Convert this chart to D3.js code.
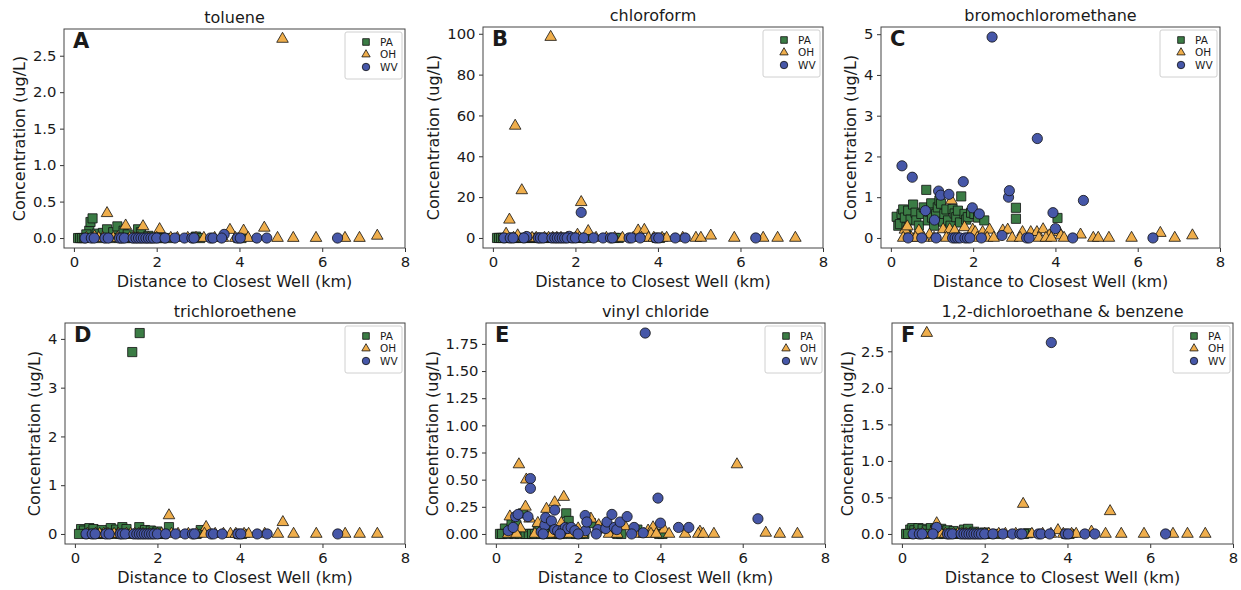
<!DOCTYPE html>
<html>
<head>
<meta charset="utf-8">
<script src="https://cdn.jsdelivr.net/npm/d3@7"></script>
<style>
  body { margin: 0; background: #fff; }
  text { font-family: "DejaVu Sans", sans-serif; fill: #1a1a1a; }
</style>
</head>
<body>
<div id="chart"></div>
<script>
// sampled sites, km to closest well. non-detects are drawn at 0
var paSites = [0.1, 0.15, 0.2, 0.25, 0.3, 0.35, 0.4, 0.45, 0.52, 0.58, 0.65, 0.72, 0.8, 0.88, 0.95, 1.02, 1.1, 1.18,
  1.25, 1.32, 1.4, 1.48, 1.55, 1.62, 1.7, 1.78, 1.85, 1.95, 2.05, 2.15, 2.28, 2.95, 3.05, 3.97, 4.05];
var ohSites = [0.3, 0.5, 0.6, 0.7, 0.8, 0.95, 1.05, 1.25, 1.35, 1.45, 1.55, 1.65, 1.8, 2.0, 2.1, 2.34, 2.5, 2.75, 2.95,
  3.14, 3.4, 3.6, 3.77, 3.9, 4.1, 4.21, 4.6, 4.92, 5.04, 5.3, 5.85, 6.55, 6.9, 7.33];
var wvSites = [0.27, 0.42, 0.49, 0.75, 0.83, 1.1, 1.15, 1.22, 1.43, 1.5, 1.56, 1.62, 1.68, 1.74, 1.8, 1.86, 1.92, 2.0,
  2.2, 2.44, 2.67, 2.85, 2.9, 3.3, 3.36, 3.57, 3.95, 4.02, 4.42, 4.66, 6.37];

var states = ["PA", "OH", "WV"];
var xTicks = [0, 2, 4, 6, 8];

// detections: [distance (km), concentration (ug/L)]
var toluenePA = [[0.37, 0.1], [0.4, 0.22], [0.45, 0.27], [0.3, 0.05], [0.55, 0.06], [0.7, 0.07], [0.8, 0.12],
  [0.95, 0.08], [1.05, 0.16], [1.2, 0.1], [1.3, 0.05], [1.55, 0.12], [1.62, 0.08], [1.8, 0.03], [2.95, 0.02]];
var tolueneOH = [[0.5, 0.02], [0.8, 0.34], [1.25, 0.17], [1.67, 0.16], [2.07, 0.12], [3.77, 0.11], [4.1, 0.1],
  [4.6, 0.14], [5.04, 2.73], [7.33, 0.03]];
var tolueneWV = [[3.63, 0.05]];
var tolueneTicks = [0, 0.5, 1, 1.5, 2, 2.5];

var chloroformPA = [];
var chloroformOH = [[0.32, 2], [0.4, 8.9], [0.54, 54.9], [0.6, 1.2], [0.7, 23.3], [1.4, 98.4], [2.05, 1.5],
  [2.14, 17.5], [2.31, 3.3], [3.52, 3.6], [3.67, 3.9], [5.28, 1.1]];
var chloroformWV = [[0.82, 0.7], [1.85, 0.8], [2.14, 12.5]];
var chloroformTicks = [0, 20, 40, 60, 80, 100];

var bromoPA = [[0.14, 0.52], [0.18, 0.3], [0.22, 0.34], [0.26, 0.59], [0.3, 0.7], [0.34, 0.5], [0.38, 0.26],
  [0.42, 0.67], [0.48, 0.45], [0.54, 0.82], [0.6, 0.62], [0.62, 0.43], [0.68, 0.3], [0.74, 0.59], [0.8, 0.75],
  [0.86, 1.18], [0.9, 0.43], [0.95, 0.65], [0.98, 0.85], [1.0, 0.5], [1.05, 0.3], [1.1, 0.59], [1.14, 0.75],
  [1.18, 0.92], [1.22, 0.84], [1.27, 0.4], [1.3, 0.59], [1.35, 0.7], [1.39, 0.43], [1.45, 0.3], [1.5, 0.71],
  [1.55, 0.6], [1.59, 0.51], [1.63, 0.67], [1.68, 0.38], [1.71, 1.02], [1.79, 0.59], [1.83, 0.45], [1.87, 0.51],
  [1.95, 0.62], [2.03, 0.59], [2.12, 0.5], [2.27, 0.43], [3.04, 0.74], [3.04, 0.47], [4.05, 0.49]];
var bromoOH = [[0.34, 0.2], [0.4, 0.28], [0.68, 0.18], [0.94, 0.08], [1.27, 0.21], [1.43, 0.21], [1.47, 0.92],
  [1.55, 0.18], [1.79, 0.26], [1.99, 0.2], [2.05, 0.14], [2.23, 0.14], [2.4, 0.2], [2.72, 0.18], [2.84, 0.2],
  [3.2, 0.14], [3.4, 0.14], [3.55, 0.14], [3.7, 0.21], [3.85, 0.06], [4.09, 0.14], [4.13, 0.06], [4.61, 0.08],
  [6.55, 0.12], [7.33, 0.06]];
var bromoWV = [[0.27, 1.77], [0.52, 1.49], [0.84, 0.67], [1.06, 0.44], [1.16, 1.15], [1.21, 1.05], [1.41, 1.07],
  [1.76, 1.38], [1.98, 0.74], [2.15, 0.59], [2.46, 4.93], [2.7, 0.06], [2.86, 1.0], [2.88, 1.16], [3.56, 2.44],
  [3.94, 0.62], [4.0, 0.23], [4.68, 0.92]];
var bromoTicks = [0, 1, 2, 3, 4, 5];

var tceePA = [[0.15, 0.1], [0.22, 0.07], [0.35, 0.12], [0.45, 0.1], [0.65, 0.08], [0.87, 0.12], [1.0, 0.09],
  [1.15, 0.14], [1.25, 0.1], [1.39, 3.73], [1.56, 0.14], [1.57, 4.12], [1.7, 0.08], [1.84, 0.07], [2.0, 0.05],
  [2.28, 0.14], [3.05, 0.08]];
var tceeOH = [[2.28, 0.38], [3.18, 0.14], [5.04, 0.24]];
var tceeWV = [];
var tceeTicks = [0, 1, 2, 3, 4];

var vinylPA = [[0.22, 0.05], [0.38, 0.1], [0.5, 0.08], [0.66, 0.19], [1.02, 0.05], [1.3, 0.06], [1.71, 0.19],
  [1.77, 0.12], [2.31, 0.1], [3.44, 0.04]];
var vinylOH = [[0.34, 0.16], [0.56, 0.64], [0.6, 0.05], [0.72, 0.25], [0.74, 0.5], [0.82, 0.14], [1.02, 0.1],
  [1.23, 0.23], [1.43, 0.29], [1.59, 0.1], [1.65, 0.34], [2.0, 0.05], [2.31, 0.14], [2.5, 0.08], [2.6, 0.04],
  [3.14, 0.07], [3.7, 0.03], [3.82, 0.06], [4.09, 0.04], [4.96, 0.02], [5.86, 0.64], [6.56, 0.01]];
var vinylWV = [[0.3, 0.03], [0.42, 0.06], [0.48, 0.16], [0.54, 0.18], [0.78, 0.16], [0.84, 0.51], [0.84, 0.42],
  [1.1, 0.02], [1.19, 0.08], [1.21, 0.15], [1.35, 0.12], [1.43, 0.22], [1.43, 0.04], [1.5, 0.03], [1.63, 0.04],
  [1.69, 0.06], [1.75, 0.05], [1.83, 0.06], [1.92, 0.03], [2.17, 0.17], [2.18, 0.03], [2.21, 0.11], [2.48, 0.04],
  [2.67, 0.05], [2.7, 0.11], [2.82, 0.18], [2.88, 0.06], [2.94, 0.04], [3.02, 0.11], [3.19, 0.16], [3.36, 0.06],
  [3.58, 0.01], [3.63, 1.85], [3.94, 0.33], [4.0, 0.1], [4.44, 0.06], [4.69, 0.06], [6.37, 0.14]];
var vinylTicks = [0, 0.25, 0.5, 0.75, 1, 1.25, 1.5, 1.75];

var dcaPA = [[0.2, 0.06], [0.25, 0.08], [0.3, 0.05], [0.4, 0.08], [0.5, 0.07], [0.6, 0.05], [0.7, 0.08],
  [0.8, 0.06], [0.95, 0.07], [1.1, 0.05], [1.25, 0.04], [1.5, 0.06], [1.6, 0.07], [1.75, 0.03], [2.0, 0.02],
  [3.05, 0.01]];
var dcaOH = [[0.6, 2.75], [0.84, 0.145], [2.93, 0.41], [3.77, 0.05], [4.58, 0.03], [5.03, 0.31]];
var dcaWV = [[0.84, 0.09], [3.61, 2.62]];
var dcaTicks = [0, 0.5, 1, 1.5, 2, 2.5];

var panels = [
  { title: "toluene", letter: "A", data: [toluenePA, tolueneOH, tolueneWV], ticks: tolueneTicks, fmt: ".1f", paZeros: true },
  { title: "chloroform", letter: "B", data: [chloroformPA, chloroformOH, chloroformWV], ticks: chloroformTicks, fmt: "d", paZeros: true },
  { title: "bromochloromethane", letter: "C", data: [bromoPA, bromoOH, bromoWV], ticks: bromoTicks, fmt: "d", paZeros: false },
  { title: "trichloroethene", letter: "D", data: [tceePA, tceeOH, tceeWV], ticks: tceeTicks, fmt: "d", paZeros: true },
  { title: "vinyl chloride", letter: "E", data: [vinylPA, vinylOH, vinylWV], ticks: vinylTicks, fmt: ".2f", paZeros: true },
  { title: "1,2-dichloroethane & benzene", letter: "F", data: [dcaPA, dcaOH, dcaWV], ticks: dcaTicks, fmt: ".1f", paZeros: true }
];

// axes frames in page pixels
var frames = [
  { left: 64, top: 29, right: 405, bottom: 248 },
  { left: 483, top: 27, right: 823, bottom: 248 },
  { left: 881, top: 27, right: 1220, bottom: 248 },
  { left: 65, top: 323, right: 405, bottom: 544 },
  { left: 486, top: 323, right: 825, bottom: 544 },
  { left: 892, top: 323, right: 1233, bottom: 544 }
];

var colors = { PA: "#3b7c45", OH: "#efae4c", WV: "#4657a8" };
var shapes = { PA: d3.symbolSquare, OH: d3.symbolTriangle, WV: d3.symbolCircle };
var sizes = { PA: 84, OH: 58, WV: 82 };
var legendSizes = { PA: 44, OH: 30, WV: 44 };
var allSites = [paSites, ohSites, wvSites];

var svg = d3.select("#chart").append("svg")
    .attr("width", 1241)
    .attr("height", 590)
    .style("background", "#fff");

panels.forEach(function (p, i) {
  var f = frames[i];
  var w = f.right - f.left;
  var h = f.bottom - f.top;
  var g = svg.append("g").attr("transform", "translate(" + f.left + "," + f.top + ")");

  // points per state: detections plus zeros at sites without a detection
  var series = states.map(function (s, k) {
    var det = p.data[k];
    var pts = det.slice();
    if (s !== "PA" || p.paZeros) {
      allSites[k].forEach(function (d) {
        var hit = det.some(function (q) { return Math.abs(q[0] - d) < 0.04; });
        if (!hit) pts.push([d, 0]);
      });
    }
    return { state: s, points: pts };
  });

  var ymax = d3.max(p.data, function (det) { return d3.max(det, function (q) { return q[1]; }) || 0; });

  var x = d3.scaleLinear().domain([-0.24, 8]).range([0, w]);
  var y = d3.scaleLinear().domain([-0.05 * ymax, 1.05 * ymax]).range([h, 0]);

  var gx = g.append("g")
      .attr("transform", "translate(0," + h + ")")
      .call(d3.axisBottom(x).tickValues(xTicks).tickSize(4).tickPadding(4.5));
  var gy = g.append("g")
      .call(d3.axisLeft(y).tickValues(p.ticks).tickFormat(d3.format(p.fmt)).tickSize(4).tickPadding(3.5));
  [gx, gy].forEach(function (a) {
    a.attr("font-size", 14.8).attr("font-family", null);
    a.select(".domain").remove();
    a.selectAll(".tick line").attr("stroke", "#333");
  });

  series.forEach(function (s) {
    g.append("g").selectAll("path")
      .data(s.points)
      .enter().append("path")
        .attr("transform", function (d) { return "translate(" + x(d[0]) + "," + y(d[1]) + ")"; })
        .attr("d", d3.symbol().type(shapes[s.state]).size(sizes[s.state]))
        .attr("fill", colors[s.state])
        .attr("stroke", "#111")
        .attr("stroke-width", 0.8);
  });

  g.append("rect")
      .attr("width", w)
      .attr("height", h)
      .attr("fill", "none")
      .attr("stroke", "#444")
      .attr("stroke-width", 1);

  g.append("text")
      .attr("x", w / 2)
      .attr("y", -6)
      .attr("text-anchor", "middle")
      .attr("font-size", 16)
      .text(p.title);

  g.append("text")
      .attr("x", 9)
      .attr("y", 19)
      .attr("font-size", 21)
      .attr("font-weight", "bold")
      .text(p.letter);

  g.append("text")
      .attr("x", w / 2)
      .attr("y", h + 39)
      .attr("text-anchor", "middle")
      .attr("font-size", 16)
      .text("Distance to Closest Well (km)");

  var bb = gy.node().getBBox();
  g.append("text")
      .attr("transform", "translate(" + (bb.x - 8) + "," + (h / 2) + ") rotate(-90)")
      .attr("text-anchor", "middle")
      .attr("font-size", 16)
      .text("Concentration (ug/L)");

  // legend
  var lg = g.append("g").attr("transform", "translate(" + (w - 60) + ",3)");
  lg.append("rect")
      .attr("width", 57)
      .attr("height", 47)
      .attr("rx", 2)
      .attr("fill", "#fff")
      .attr("fill-opacity", 0.85)
      .attr("stroke", "#d0d0d0");
  var items = lg.selectAll(".item")
      .data(states)
      .enter().append("g")
      .attr("transform", function (d, k) { return "translate(0," + (10 + k * 12.5) + ")"; });
  items.append("path")
      .attr("transform", "translate(21,0)")
      .attr("d", function (d) { return d3.symbol().type(shapes[d]).size(legendSizes[d])(); })
      .attr("fill", function (d) { return colors[d]; })
      .attr("stroke", "#111")
      .attr("stroke-width", 0.8);
  items.append("text")
      .attr("x", 35)
      .attr("dy", "0.35em")
      .attr("font-size", 10.5)
      .text(function (d) { return d; });
});
</script>
</body>
</html>
